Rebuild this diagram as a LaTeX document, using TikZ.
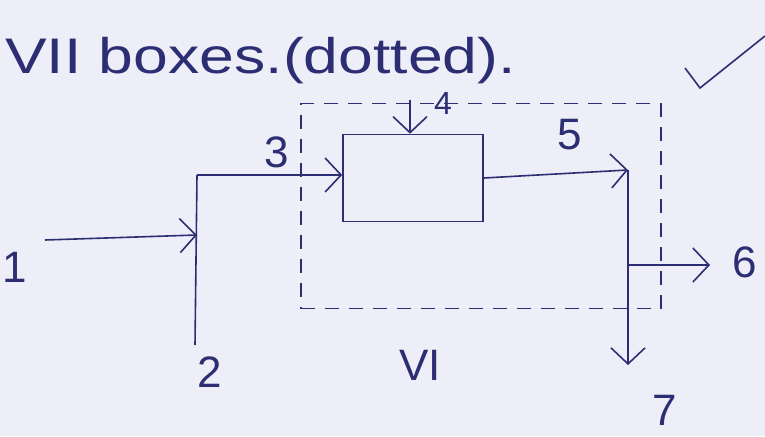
\documentclass[tikz,border=0pt]{standalone}
\usepackage{fontspec}
\setmainfont{Liberation Sans}
\usetikzlibrary{arrows.meta,positioning}
\definecolor{ink}{RGB}{45,45,115}
\definecolor{paper}{RGB}{238,238,248}
\tikzset{
  wire/.style={draw=ink, line width=1.6pt},
  flow/.style={wire, -{Straight Barb[length=16pt,width=34pt,line width=1.6pt]}},
  lbl/.style={text=ink, font=\fontsize{44}{44}\selectfont, inner sep=0pt},
}
\begin{document}
\begin{tikzpicture}[x=1pt,y=-1pt]
\fill[paper] (0,0) rectangle (765,436);
\useasboundingbox (0,0) rectangle (765,436);
% heading and tick
\node[lbl, anchor=base west, font=\fontsize{50}{50}\selectfont, xscale=1.25] (title) at (5,74) {VII boxes.(dotted).};
\coordinate (t1) at (685,68);
\coordinate (t2) at (700,88);
\coordinate (t3) at (765,36);
\draw[wire] (t1) -- (t2) -- (t3);
% boxes
\node[draw=ink, line width=1.6pt, minimum width=140pt, minimum height=87pt, inner sep=0pt] (box) at (413,178) {};
\node[draw=ink, line width=1.2pt, dash pattern=on 14pt off 10pt, minimum width=360pt, minimum height=205pt, inner sep=0pt] (env) at (481,206) {};
% junctions
\coordinate (s1) at (45,240);
\coordinate (j1) at (197,235);
\coordinate (j2) at (197,175);
\coordinate (b2) at (195,345);
\coordinate (s4) at (410,100);
\coordinate (j5) at (628,170);
\coordinate (j6) at (628,265);
\coordinate (e6) at (710,265);
\coordinate (e7) at (628,365);
% streams
\draw[flow] (s1) -- (j1);
\draw[wire] (j2) -- (b2);
\draw[flow] (j2) -- (j2 -| box.west);
\draw[flow] (s4) -- (s4 |- box.north);
\draw[flow] (box.east) -- (j5);
\draw[wire] (j5) -- (j6);
\draw[flow] (j6) -- (e7);
\draw[flow] (j6) -- (e6);
% labels
\node[lbl] (n1) at (15,267) {1};
\node[lbl] (n2) at (210,372) {2};
\node[lbl] (n3) at (277,152) {3};
\node[lbl, font=\fontsize{32}{32}\selectfont] (n4) at (443,103) {4};
\node[lbl] (n5) at (570,135) {5};
\node[lbl] (n6) at (745,262) {6};
\node[lbl] (n7) at (665,410) {7};
\node[lbl] (n8) at (420,365) {VI};
\end{tikzpicture}
\end{document}
